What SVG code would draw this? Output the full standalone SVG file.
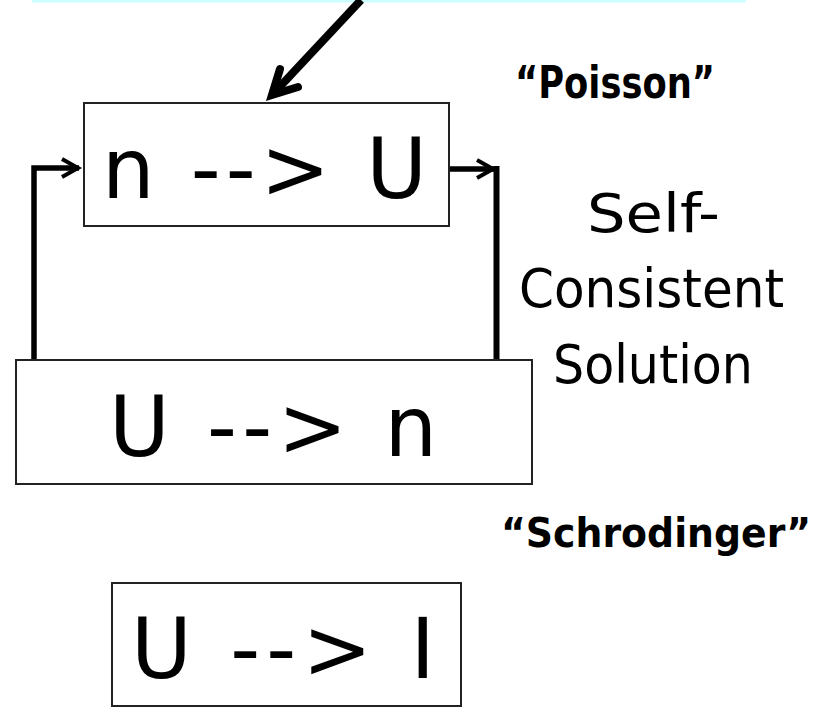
<svg xmlns="http://www.w3.org/2000/svg" width="827" height="707" viewBox="0 0 827 707">
  <style>
    .box { fill: #ffffff; stroke: #222222; stroke-width: 2; }
    .big { font-family: "DejaVu Sans", Verdana, sans-serif; font-size: 83px; fill: #000000; }
    .label { font-family: "DejaVu Sans", sans-serif; font-size: 53px; fill: #000000; }
    .blabel { font-family: "DejaVu Sans", sans-serif; font-size: 44px; font-weight: bold; fill: #000000; }
    .conn { fill: none; stroke: #000000; stroke-linecap: butt; stroke-linejoin: miter; }
  </style>
  <defs>
    <marker id="chev" markerUnits="userSpaceOnUse" markerWidth="24" markerHeight="24" viewBox="-20 -12 24 24" refX="0" refY="0" orient="auto">
      <path d="M -17 -9 L -1 0 L -17 9" fill="none" stroke="#000000" stroke-width="4" stroke-linejoin="miter"/>
    </marker>
  </defs>

  <rect x="32" y="0" width="714" height="2.5" fill="#ccffff"/>

  <g id="connectors">
    <g id="input-arrow">
      <path class="conn" d="M 361 0 L 273 94" stroke-width="8"/>
      <path d="M 280 69 L 272 95 L 298 87" fill="none" stroke="#000000" stroke-width="8" stroke-linecap="round" stroke-linejoin="miter"/>
    </g>
    <path id="feed-left" class="conn" d="M 34 360 V 168 H 79" stroke-width="5.5" marker-end="url(#chev)"/>
    <path id="feed-right" class="conn" d="M 449 169 H 494" stroke-width="5.5" marker-end="url(#chev)"/>
    <path id="feed-right-vert" class="conn" d="M 496.5 166 V 360" stroke-width="6"/>
  </g>

  <g id="poisson">
    <rect class="box" x="84" y="103" width="365" height="123"/>
    <text class="big" x="102" y="198" textLength="325" lengthAdjust="spacing">n --&gt; U</text>
  </g>

  <g id="schrodinger">
    <rect class="box" x="16" y="360" width="516" height="124"/>
    <text class="big" x="109" y="456" textLength="328" lengthAdjust="spacing">U --&gt; n</text>
  </g>

  <g id="current">
    <rect class="box" x="112" y="583" width="349" height="123"/>
    <text class="big" x="131" y="678" textLength="304" lengthAdjust="spacing">U --&gt; I</text>
  </g>

  <g id="labels">
    <text class="blabel" x="515" y="98" textLength="200" lengthAdjust="spacingAndGlyphs">“Poisson”</text>
    <text class="label" x="587" y="232" textLength="133" lengthAdjust="spacingAndGlyphs">Self-</text>
    <text class="label" x="519" y="307" textLength="265" lengthAdjust="spacingAndGlyphs">Consistent</text>
    <text class="label" x="553" y="383" textLength="200" lengthAdjust="spacingAndGlyphs">Solution</text>
    <text class="blabel" x="501" y="547" textLength="310" lengthAdjust="spacingAndGlyphs" style="font-size:40px">“Schrodinger”</text>
  </g>
</svg>
